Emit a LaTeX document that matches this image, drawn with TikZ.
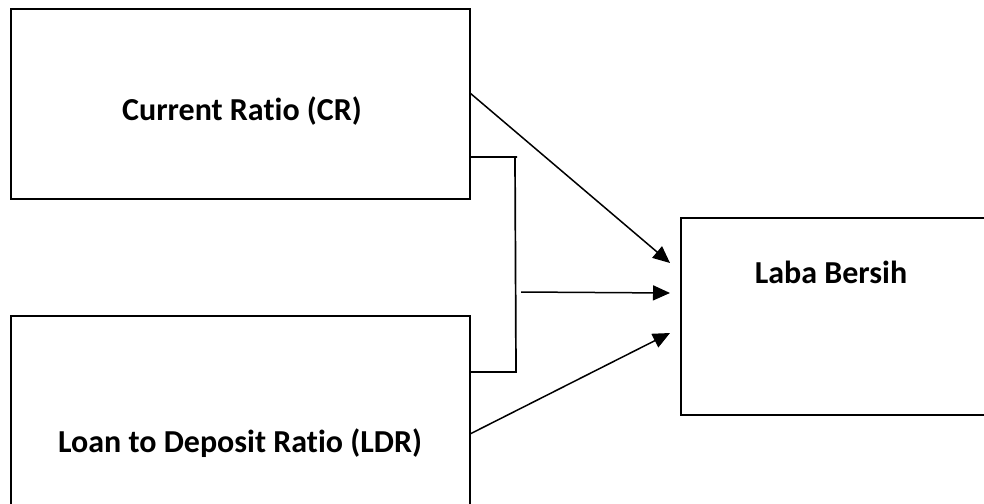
\documentclass[tikz,border=0pt]{standalone}
\usepackage{fontspec}
\setmainfont[Ligatures={NoCommon,NoContextual}]{Carlito}
\usetikzlibrary{arrows.meta}
\begin{document}
\begin{tikzpicture}[x=1pt, y=-1pt, line width=1.7pt,
  varbox/.style={draw, rectangle, inner sep=0pt, outer sep=0pt, anchor=north west},
  caption/.style={font=\fontsize{32}{38}\selectfont\bfseries, inner sep=0pt},
  link/.style={-{Triangle[length=17pt,width=15pt]}, line width=1.5pt},
  bracket/.style={line width=1.7pt}]
\useasboundingbox (0,0) rectangle (984,503);
\clip (0,0) rectangle (984,503);
% boxes (the lower and right ones run past the frame)
\node[varbox, minimum width=459pt, minimum height=190pt] (cr) at (11,9) {};
\node[varbox, minimum width=459pt, minimum height=230pt] (ldr) at (11,316) {};
\node[varbox, minimum width=330pt, minimum height=197pt] (laba) at (681,218) {};
% captions
\node[caption] (crtxt) at (242,111) {Current Rat\kern0pt io (CR)};
\node[caption] (ldrtxt) at (240,443) {Loan to Deposit Rat\kern0pt io (LDR)};
\node[caption] (labatxt) at (831,272) {Laba Bersih};
% connector ends
\coordinate (crout) at (cr.east |- 0,93);
\coordinate (ldrout) at (ldr.east |- 0,434);
\coordinate (brtop) at (cr.east |- 0,157);
\coordinate (brbot) at (ldr.east |- 0,372);
\coordinate (brmid) at (521,292);
\coordinate (tipA) at (670,263);
\coordinate (tipB) at (670,293);
\coordinate (tipC) at (670,333);
% joint bracket
\draw[bracket] (brtop) -- (517,157) (515,157) -- (516,372) -- (brbot);
% arrows
\draw[link] (crout) -- (tipA);
\draw[link] (brmid) -- (tipB);
\draw[link] (ldrout) -- (tipC);
\end{tikzpicture}
\end{document}
